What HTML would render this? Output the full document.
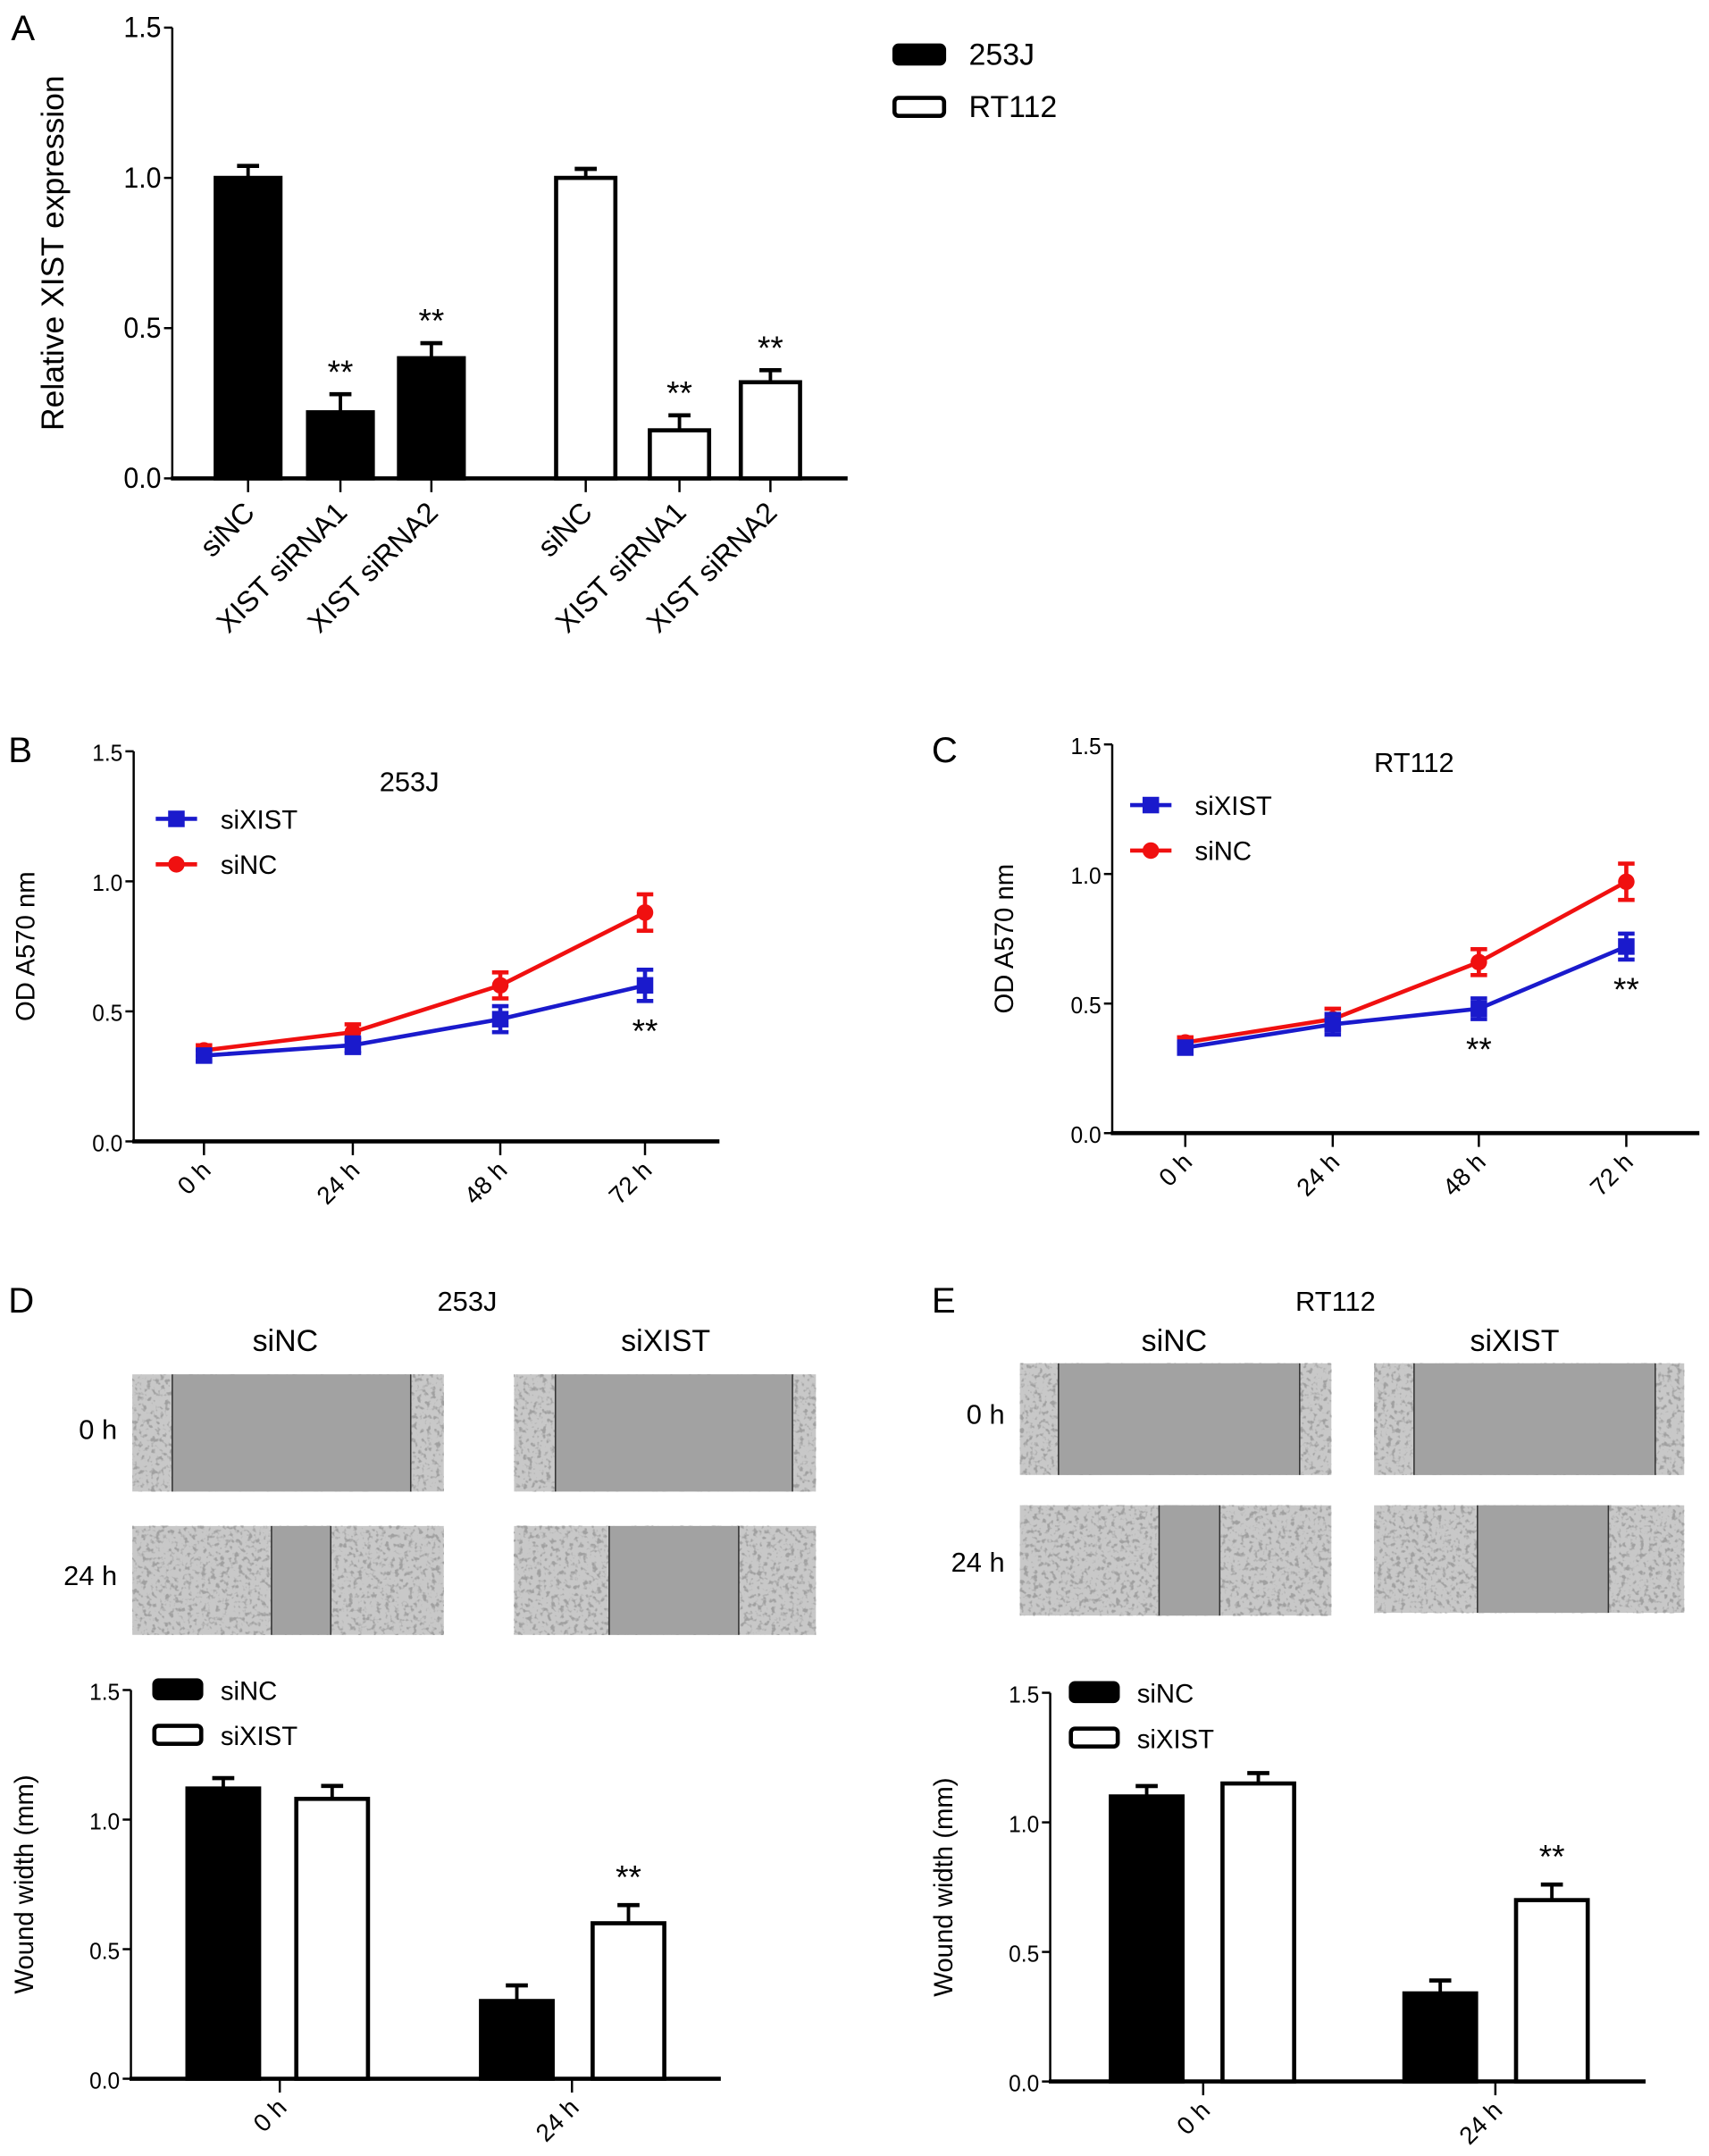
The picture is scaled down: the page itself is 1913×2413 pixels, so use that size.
<!DOCTYPE html>
<html><head><meta charset="utf-8"><style>
html,body{margin:0;padding:0;background:#fff}
svg{display:block}
text{font-family:"Liberation Sans",sans-serif}
</style></head><body>
<svg id="fig" width="1913" height="2413" viewBox="0 0 1240 1564" xmlns="http://www.w3.org/2000/svg">
<defs>
<filter id="cells" x="0" y="0" width="100%" height="100%">
<feTurbulence type="fractalNoise" baseFrequency="0.3" numOctaves="2" seed="3"/>
<feColorMatrix type="matrix" values="0 0 0 0 0.35  0 0 0 0 0.35  0 0 0 0 0.35  5 0 0 0 -2.6"/>
</filter>
</defs>
<g id="root"></g>
</svg>
<script>
// ---------- Panel A data ----------
const aCats = ["siNC","XIST siRNA1","XIST siRNA2"];
const a253J = [1.0,0.22,0.40];
const a253JErr = [0.04,0.06,0.05];
const aRT112 = [1.0,0.16,0.32];
const aRT112Err = [0.03,0.05,0.04];
const aSig = ["","**","**"];
const aTicks = [0.0,0.5,1.0,1.5];
// ---------- Panel B / C data ----------
const timeCats = ["0 h","24 h","48 h","72 h"];
const bXIST = [0.33,0.37,0.47,0.60];
const bXISTErr = [0.02,0.03,0.05,0.06];
const bNC = [0.35,0.42,0.60,0.88];
const bNCErr = [0.02,0.03,0.05,0.07];
const bSig = ["","","","**"];
const cXIST = [0.33,0.42,0.48,0.72];
const cXISTErr = [0.02,0.04,0.04,0.05];
const cNC = [0.35,0.44,0.66,0.97];
const cNCErr = [0.02,0.04,0.05,0.07];
const cSig = ["","","**","**"];
const odTicks = [0.0,0.5,1.0,1.5];
// ---------- Panel D / E data ----------
const woundCats = ["0 h","24 h"];
const dNC = [1.12,0.30];
const dNCErr = [0.04,0.06];
const dXIST = [1.08,0.60];
const dXISTErr = [0.05,0.07];
const eNC = [1.10,0.34];
const eNCErr = [0.04,0.05];
const eXIST = [1.15,0.70];
const eXISTErr = [0.04,0.06];
const woundTicks = [0.0,0.5,1.0,1.5];

const NS="http://www.w3.org/2000/svg";
const root=document.getElementById('root');
function el(tag,attrs,parent,txt){const e=document.createElementNS(NS,tag);for(const k in attrs)e.setAttribute(k,attrs[k]);if(txt!==undefined)e.textContent=txt;(parent||root).appendChild(e);return e;}
function grp(name){const g=el('g',{});


return g;}
function label(g,x,y,s,size,anchor,name,extra){const t=el('text',Object.assign({x:x,y:y,'font-size':size,'text-anchor':anchor||'start',fill:'#000'},extra||{}),g,s);


return t;}
function yAxis(g,x,y0,y15,xEnd,ticks,fs,title,titleX,lw){
  const sy=v=>y0-(y0-y15)*v/1.5;
  const ax=el('line',{x1:x,y1:y0+1,x2:x,y2:y15,stroke:'#000','stroke-width':lw||1.6},g);
  
  
  const xa=el('line',{x1:x-1,y1:y0,x2:xEnd,y2:y0,stroke:'#000','stroke-width':3},g);
  
  
  ticks.forEach(t=>{el('line',{x1:x-6,y1:sy(t),x2:x,y2:sy(t),stroke:'#000','stroke-width':1.6},g);
    label(g,x-8,sy(t)+7,t.toFixed(1),fs,'end','y-tick-label',{'textLength':fs*1.3,'lengthAdjust':'spacingAndGlyphs'});});
  label(g,0,0,title,fs+2,'middle','y-axis-title',{transform:`translate(${titleX},${(y0+y15)/2}) rotate(-90)`});
  return sy;
}
function xTick(g,x,y0,s,fs,dy){el('line',{x1:x,y1:y0,x2:x,y2:y0+10,stroke:'#000','stroke-width':1.6},g);
  label(g,0,0,s,fs,'end','x-tick-label',{transform:`translate(${x+6},${y0+(dy||24)}) rotate(-45)`});}
function bar(g,cx,w,y0,yv,yerr,filled,name){
  el('line',{x1:cx,y1:yv,x2:cx,y2:yerr,stroke:'#000','stroke-width':2.5},g);
  el('line',{x1:cx-8,y1:yerr,x2:cx+8,y2:yerr,stroke:'#000','stroke-width':3},g);
  const r=el('rect',{x:cx-w/2+1.5,y:yv,width:w-3,height:y0-yv,fill:filled?'#000':'#fff',stroke:'#000','stroke-width':3},g);
  
  
}
function legendBox(g,x,y,w,filled,s,fs,tx){
  const r=el('rect',{x:x,y:y-7,width:w,height:13,rx:3,fill:filled?'#000':'#fff',stroke:'#000','stroke-width':3},g);
  
  
  label(g,tx,y+7,s,fs,'start','legend-entry');
}

// ---------- Panel A ----------
(function(){
  const g=grp('panel-a');
  label(g,8,29,'A',26,'start','panel-label');
  const y0=347,y15=20;
  const sy=yAxis(g,125,y0,y15,615,aTicks,21,'Relative XIST expression',46);
  const c1=[180,247,313],c2=[425,493,559];
  aCats.forEach((c,i)=>{
    bar(g,c1[i],50,y0,sy(a253J[i]),sy(a253J[i]+a253JErr[i]),true,'bar-253j-'+i);
    bar(g,c2[i],46,y0,sy(aRT112[i]),sy(aRT112[i]+aRT112Err[i]),false,'bar-rt112-'+i);
    if(aSig[i]){label(g,c1[i],sy(a253J[i]+a253JErr[i])-8,aSig[i],24,'middle','significance-mark');
      label(g,c2[i],sy(aRT112[i]+aRT112Err[i])-8,aSig[i],24,'middle','significance-mark');}
    xTick(g,c1[i],y0,c,21,26);xTick(g,c2[i],y0,c,21,26);
  });
  legendBox(g,649,40,36,true,'253J',22,703);
  legendBox(g,649,78,36,false,'RT112',22,703);
})();

// ---------- Line panels ----------
function linePanel(name,letter,lx,ly,ax,y0,y15,xEnd,xs,title,tx,ty,blue,blueE,red,redE,sig,legX,legY){
  const g=grp(name);
  label(g,lx,ly,letter,26,'start','panel-label');
  const sy=yAxis(g,ax,y0,y15,xEnd,odTicks,17,'OD A570 nm',ax-72);
  label(g,tx,ty,title,20,'middle','chart-title');
  timeCats.forEach((c,i)=>xTick(g,xs[i],y0,c,18,22));
  [[red,redE,'#f01010','sinc'],[blue,blueE,'#1a1acc','sixist']].forEach(([v,e,col,nm])=>{
    const pts=v.map((d,i)=>xs[i]+','+sy(d)).join(' ');
    const pl=el('polyline',{points:pts,fill:'none',stroke:col,'stroke-width':3},g);
    
    
    v.forEach((d,i)=>{
      el('line',{x1:xs[i],y1:sy(d-e[i]),x2:xs[i],y2:sy(d+e[i]),stroke:col,'stroke-width':3},g);
      el('line',{x1:xs[i]-6,y1:sy(d-e[i]),x2:xs[i]+6,y2:sy(d-e[i]),stroke:col,'stroke-width':3},g);
      el('line',{x1:xs[i]-6,y1:sy(d+e[i]),x2:xs[i]+6,y2:sy(d+e[i]),stroke:col,'stroke-width':3},g);
      const m=nm==='sinc'?el('circle',{cx:xs[i],cy:sy(d),r:6,fill:col},g):el('rect',{x:xs[i]-6,y:sy(d)-6,width:12,height:12,fill:col},g);
      
      
    });
  });
  sig.forEach((s,i)=>{if(s){const lo=Math.min(blue[i]-blueE[i],red[i]-redE[i]);label(g,xs[i],sy(lo)+30,s,24,'middle','significance-mark');}});
  el('line',{x1:legX,y1:legY,x2:legX+30,y2:legY,stroke:'#1a1acc','stroke-width':3},g);
  el('rect',{x:legX+9,y:legY-6,width:12,height:12,fill:'#1a1acc'},g);
  label(g,legX+47,legY+7,'siXIST',19,'start','legend-entry');
  el('line',{x1:legX,y1:legY+33,x2:legX+30,y2:legY+33,stroke:'#f01010','stroke-width':3},g);
  el('circle',{cx:legX+15,cy:legY+33,r:6,fill:'#f01010'},g);
  label(g,legX+47,legY+40,'siNC',19,'start','legend-entry');
}
linePanel('panel-b','B',6,553,97,828,545,522,[148,256,363,468],'253J',297,574,bXIST,bXISTErr,bNC,bNCErr,bSig,113,594);
linePanel('panel-c','C',676,553,807,822,540,1233,[860,967,1073,1180],'RT112',1026,560,cXIST,cXISTErr,cNC,cNCErr,cSig,820,584);

// ---------- Wound images ----------
function wound(g,x,y,w,h,gaps,name){
  const gg=el('g',{},g);
  
  
  el('rect',{x:x,y:y,width:w,height:h,fill:'#c8c8c8'},gg);
  el('rect',{x:x,y:y,width:w,height:h,fill:'#999',filter:'url(#cells)'},gg);
  el('rect',{x:gaps[0],y:y,width:gaps[1]-gaps[0],height:h,fill:'#a2a2a2'},gg);
  el('line',{x1:gaps[0],y1:y,x2:gaps[0],y2:y+h,stroke:'#333','stroke-width':1},gg);
  el('line',{x1:gaps[1],y1:y,x2:gaps[1],y2:y+h,stroke:'#333','stroke-width':1},gg);
}
(function(){
  const g=grp('panel-d-images');
  label(g,6,952,'D',26,'start','panel-label');
  label(g,339,951,'253J',20,'middle','image-group-title');
  label(g,207,980,'siNC',22,'middle','column-title');
  label(g,483,980,'siXIST',22,'middle','column-title');
  label(g,85,1044,'0 h',20,'end','row-label');
  label(g,85,1150,'24 h',20,'end','row-label');
  wound(g,96,997,226,85,[125,298],'image-sinc-0h');
  wound(g,373,997,219,85,[403,575],'image-sixist-0h');
  wound(g,96,1107,226,79,[197,240],'image-sinc-24h');
  wound(g,373,1107,219,79,[442,536],'image-sixist-24h');
  const h=grp('panel-e-images');
  label(h,676,952,'E',26,'start','panel-label');
  label(h,969,951,'RT112',20,'middle','image-group-title');
  label(h,852,980,'siNC',22,'middle','column-title');
  label(h,1099,980,'siXIST',22,'middle','column-title');
  label(h,729,1033,'0 h',20,'end','row-label');
  label(h,729,1140,'24 h',20,'end','row-label');
  wound(h,740,989,226,81,[768,943],'image-sinc-0h');
  wound(h,997,989,225,81,[1026,1201],'image-sixist-0h');
  wound(h,740,1092,226,80,[841,885],'image-sinc-24h');
  wound(h,997,1092,225,78,[1072,1167],'image-sixist-24h');
})();

// ---------- Wound bar panels ----------
function woundPanel(name,ax,y0,y15,xEnd,ticksX,ncX,xiX,nc,ncE,xi,xiE,legX,titleX){
  const g=grp(name);
  const sy=yAxis(g,ax,y0,y15,xEnd,woundTicks,17,'Wound width (mm)',titleX);
  woundCats.forEach((c,i)=>{
    bar(g,ncX[i],55,y0,sy(nc[i]),sy(nc[i]+ncE[i]),true,'bar-sinc-'+i);
    bar(g,xiX[i],55,y0,sy(xi[i]),sy(xi[i]+xiE[i]),false,'bar-sixist-'+i);
    xTick(g,ticksX[i],y0,c,18,22);
  });
  label(g,xiX[1],sy(xi[1]+xiE[1])-12,'**',24,'middle','significance-mark');
  legendBox(g,legX,y15,34,true,'siNC',19,legX+48);
  legendBox(g,legX,y15+33,34,false,'siXIST',19,legX+48);
}
woundPanel('panel-d-chart',95,1508,1226,523,[203,415],[162,375],[241,456],dNC,dNCErr,dXIST,dXISTErr,112,24);
woundPanel('panel-e-chart',762,1510,1228,1194,[873,1085],[832,1045],[913,1126],eNC,eNCErr,eXIST,eXISTErr,777,691);
</script>
</body></html>
